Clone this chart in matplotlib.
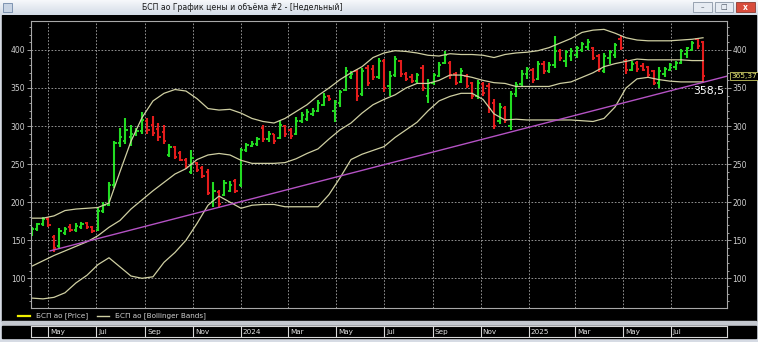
import numpy as np
import pandas as pd
import matplotlib
matplotlib.use("Agg")
import matplotlib.pyplot as plt
import matplotlib.dates as mdates
from matplotlib.lines import Line2D
from matplotlib.patches import Rectangle

W, H = 758, 342

# weekly bars, BSPB
dates = pd.date_range("2023-04-10", periods=123, freq="7D")
opens = [158, 165, 171, 178, 154, 142, 160, 168, 163, 167, 172, 167, 163, 188, 196, 222,
         278, 281, 285, 290, 293, 307, 302, 296, 292, 262, 272, 264, 256, 240, 251, 245,
         240, 200, 214, 210, 215, 228, 222, 268, 274, 276, 298, 283, 289, 284, 300, 295,
         290, 306, 309, 316, 320, 328, 339, 320, 330, 348, 364, 372, 342, 376, 375, 364,
         385, 352, 367, 385, 368, 364, 359, 376, 340, 356, 366, 383, 383, 368, 358, 366,
         356, 340, 355, 352, 330, 306, 324, 300, 342, 355, 368, 374, 362, 382, 372, 380,
         398, 386, 392, 393, 400, 404, 402, 392, 372, 390, 393, 414, 386, 374, 383, 379,
         377, 372, 356, 368, 374, 378, 383, 395, 400, 414, 410]
highs = [168, 173, 181, 180, 157, 166, 168, 171, 172, 174, 174, 169, 192, 200, 226, 281,
         298, 311, 302, 297, 318, 311, 313, 304, 301, 276, 274, 267, 258, 268, 253, 247,
         243, 227, 216, 229, 228, 230, 271, 278, 280, 285, 302, 293, 290, 306, 302, 298,
         312, 318, 323, 324, 334, 343, 341, 334, 348, 377, 372, 375, 376, 380, 380, 390,
         388, 372, 392, 387, 371, 368, 370, 380, 362, 370, 384, 398, 386, 371, 376, 368,
         358, 360, 358, 357, 336, 330, 327, 346, 358, 373, 378, 376, 385, 386, 384, 418,
         401, 400, 403, 405, 411, 414, 404, 394, 396, 400, 409, 418, 388, 386, 385, 383,
         379, 374, 377, 378, 383, 385, 401, 404, 412, 416, 412]
lows = [155, 162, 169, 168, 135, 140, 157, 161, 161, 165, 165, 160, 162, 186, 195, 218,
        272, 276, 274, 287, 290, 290, 287, 281, 277, 259, 257, 254, 243, 237, 239, 232,
        210, 194, 193, 208, 214, 212, 220, 266, 272, 274, 279, 279, 277, 283, 286, 283,
        288, 304, 306, 313, 318, 326, 333, 305, 325, 346, 362, 333, 340, 352, 360, 362,
        345, 340, 365, 364, 359, 357, 356, 346, 330, 354, 364, 381, 362, 354, 356, 350,
        335, 335, 339, 317, 296, 303, 304, 295, 338, 353, 362, 357, 360, 369, 370, 376,
        386, 378, 386, 390, 397, 400, 387, 371, 370, 382, 389, 400, 369, 372, 371, 372,
        364, 354, 350, 365, 372, 374, 381, 389, 398, 401, 358.5]
closes = [165, 171, 178, 170, 140, 162, 165, 163, 169, 171, 167, 162, 188, 196, 222, 278,
          285, 295, 290, 294, 308, 295, 291, 285, 280, 272, 260, 256, 246, 258, 242, 235,
          212, 215, 197, 225, 222, 215, 268, 275, 277, 283, 283, 290, 280, 302, 290, 287,
          306, 314, 318, 320, 330, 338, 335, 331, 345, 372, 369, 340, 372, 356, 364, 386,
          350, 366, 388, 368, 362, 359, 367, 350, 356, 367, 380, 393, 367, 357, 372, 353,
          340, 356, 343, 322, 300, 325, 308, 342, 354, 369, 375, 361, 381, 372, 380, 398,
          389, 397, 398, 402, 408, 410, 390, 375, 392, 397, 406, 403, 373, 382, 375, 374,
          367, 357, 372, 375, 380, 383, 398, 402, 409, 405, 365.37]

# Bollinger bands, read every second week
band_dates = dates[::2]
bb_upper = [179, 179, 182, 189, 191, 192, 193, 199, 240, 280, 311, 333, 343, 348, 346, 336,
            323, 321, 322, 317, 310, 306, 304, 310, 319, 328, 340, 350, 361, 370, 378, 390,
            396, 399, 398, 396, 393, 392, 395, 394, 394, 393, 390, 394, 396, 397, 399, 403,
            409, 415, 423, 426, 427, 422, 416, 413, 412, 412, 412, 413, 414, 416]
bb_middle = [116, 123, 130, 136, 142, 148, 156, 167, 176, 191, 203, 215, 226, 237, 244, 256,
             262, 264, 262, 255, 251, 251, 251, 252, 257, 264, 270, 283, 295, 304, 317, 328,
             335, 341, 350, 356, 356, 360, 367, 367, 364, 360, 357, 356, 352, 352, 352, 352,
             356, 358, 364, 370, 378, 382, 385, 388, 387, 387, 387, 387, 386, 386]
bb_lower = [74, 73, 75, 81, 94, 104, 118, 127, 115, 103, 100, 102, 121, 134, 150, 172,
            196, 208, 200, 192, 196, 197, 197, 194, 194, 194, 194, 210, 232, 256, 263, 268,
            273, 285, 295, 305, 320, 333, 339, 343, 343, 335, 316, 308, 309, 308, 308, 308,
            308, 308, 307, 306, 310, 325, 350, 362, 364, 361, 359, 358, 358, 358]

# trend line
trend_dates = pd.to_datetime(["2023-05-03", "2025-09-10"])
trend_values = [136, 365.4]

month_ticks = pd.date_range("2023-05-01", "2025-07-01", freq="2MS")
month_labels = ["May", "Jul", "Sep", "Nov", "2024", "Mar", "May", "Jul", "Sep", "Nov",
                "2025", "Mar", "May", "Jul"]

title = "БСП ао График цены и объёма #2 - [Недельный]"
last_price = "365,37"
low_label = "358,5"

GREEN = "#22dc22"
RED = "#e41c1c"
BAND = "#cfcfa2"
GRID = "#a8a8a8"
TXT = "#d0d0d0"


def px_axes(x0, y0, x1, y1):
    return fig.add_axes([x0 / W, 1 - y1 / H, (x1 - x0) / W, (y1 - y0) / H])


def px_rect(x0, y0, x1, y1, z=-5, **kw):
    fig.patches.append(Rectangle((x0 / W, 1 - y1 / H), (x1 - x0) / W, (y1 - y0) / H,
                                 transform=fig.transFigure, zorder=z, **kw))


fig = plt.figure(figsize=(W / 100, H / 100), dpi=100, facecolor="#d6dbe4")

# window chrome
px_rect(2, 15, 756, 321, color="black")
px_rect(2, 321, 756, 326, color="#c4c8cf")
px_rect(2, 326, 756, 338, color="black")
tb = px_axes(0, 0, W, 15)
tb.imshow(np.linspace(0, 1, 20).reshape(-1, 1), aspect="auto",
          cmap=matplotlib.colors.LinearSegmentedColormap.from_list("t", ["#f6f8fb", "#d3dbe6"]),
          extent=(0, 1, 0, 1))
tb.axis("off")
fig.text(242 / W, 1 - 8 / H, title, fontsize=5.6, color="#1a1a1a", ha="center", va="center")
px_rect(3, 3, 12, 12, z=2, facecolor="#c8d4e4", edgecolor="#7088a8", lw=0.6)
px_rect(693, 2, 712, 12, z=2, facecolor="#e6ebf2", edgecolor="#8a96a6", lw=0.6)
px_rect(715, 2, 733, 12, z=2, facecolor="#e6ebf2", edgecolor="#8a96a6", lw=0.6)
px_rect(736, 2, 755, 12, z=2, facecolor="#d84c3c", edgecolor="#8a3a30", lw=0.6)
fig.text(702.5 / W, 1 - 7.5 / H, "–", fontsize=5, color="#404a58", ha="center", va="center")
fig.text(724 / W, 1 - 7 / H, "□", fontsize=5, color="#404a58", ha="center", va="center")
fig.text(745.5 / W, 1 - 7 / H, "x", fontsize=5.5, color="white", ha="center", va="center",
         fontweight="bold")

# price chart
ax = px_axes(31, 21, 727, 308)
ax.set_facecolor("black")
xd = mdates.date2num(dates)
cols = [GREEN if c >= o else RED for o, c in zip(opens, closes)]
tick = 2.8
ax.vlines(xd, lows, highs, colors=cols, lw=1.5)
ax.hlines(opens, xd - tick, xd, colors=cols, lw=1.4)
ax.hlines(closes, xd, xd + tick, colors=cols, lw=1.4)

bx = mdates.date2num(band_dates)
for band in (bb_upper, bb_middle, bb_lower):
    ax.plot(bx, band, color=BAND, lw=0.9)
ax.plot(mdates.date2num(trend_dates), trend_values, color="#b452c4", lw=1.0)

ax.set_xlim(mdates.date2num(pd.Timestamp("2023-04-08 18:00")),
            mdates.date2num(pd.Timestamp("2025-09-10 12:00")))
ax.set_ylim(61, 438)
ax.set_xticks(mdates.date2num(month_ticks))
ax.yaxis.set_major_locator(plt.MultipleLocator(50))
ax.yaxis.set_minor_locator(plt.MultipleLocator(10))
ax.grid(True, which="major", color=GRID, ls=(0, (2, 2)), lw=0.6)
ax.tick_params(axis="x", length=0, labelbottom=False)
ax.tick_params(axis="y", which="both", left=True, right=True, labelleft=True, labelright=True,
               colors="#b8b8b8", labelcolor=TXT, labelsize=5.5, pad=1, width=0.6)
ax.tick_params(axis="y", which="major", length=3)
ax.tick_params(axis="y", which="minor", length=1.5)
for s in ax.spines.values():
    s.set_color("#a8a8a8")
    s.set_linewidth(0.8)

ax.text(1.006, (365.37 - 61) / (438 - 61), last_price, transform=ax.transAxes, fontsize=5.4,
        color="#e8e878", va="center", ha="left",
        bbox=dict(boxstyle="square,pad=0.15", fc="black", ec="#c8c860", lw=0.6))
fig.text(724 / W, 1 - 91 / H, low_label, fontsize=7.8, color="white", ha="right", va="center")

# legend
fig.add_artist(Line2D([18 / W, 30 / W], [1 - 315.5 / H] * 2, color="#f0f000", lw=1.6))
fig.text(36 / W, 1 - 315.5 / H, "БСП ао [Price]", fontsize=5.2, color=TXT, va="center")
fig.add_artist(Line2D([97 / W, 109 / W], [1 - 315.5 / H] * 2, color=BAND, lw=1.0))
fig.text(115 / W, 1 - 315.5 / H, "БСП ао [Bollinger Bands]", fontsize=5.2, color=TXT,
         va="center")

# date strip
dx = px_axes(31, 326, 727, 337)
dx.set_facecolor("black")
dx.set_xlim(ax.get_xlim())
dx.set_ylim(0, 1)
dx.set_xticks([])
dx.set_yticks([])
for s in dx.spines.values():
    s.set_color("#d8d8d8")
    s.set_linewidth(0.8)
for d, lab in zip(mdates.date2num(month_ticks), month_labels):
    dx.axvline(d, color="#d8d8d8", lw=0.8)
    dx.text(d + 2.5, 0.45, lab, fontsize=5.2, color="#e4e4e4", va="center", ha="left")

fig.savefig("out.png", dpi=100, facecolor=fig.get_facecolor())
